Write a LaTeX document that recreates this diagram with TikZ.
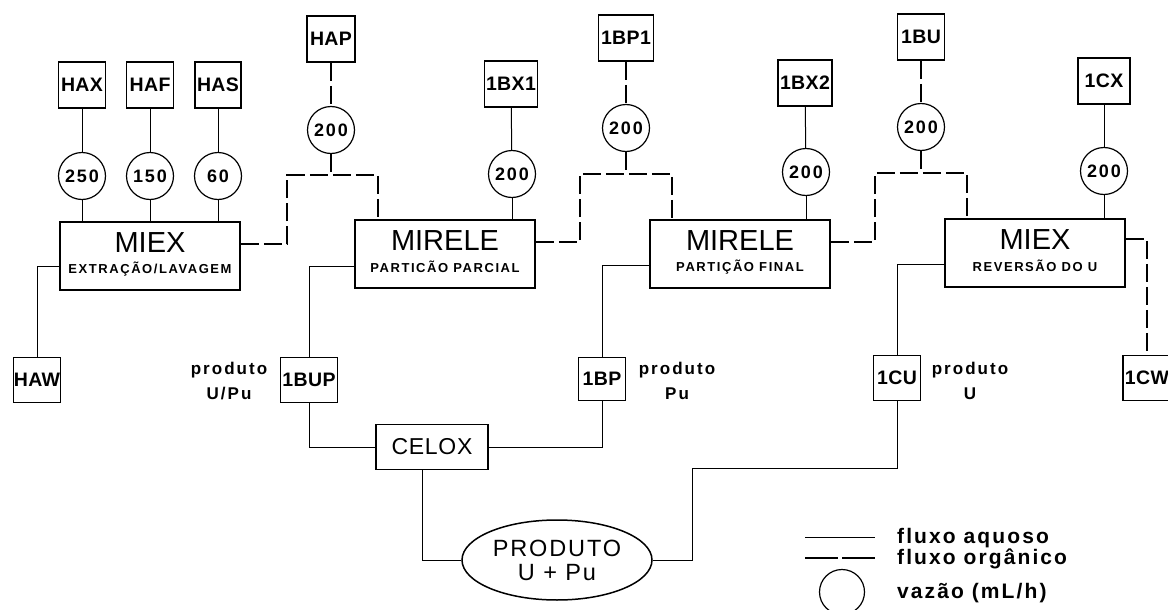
\documentclass[tikz,border=0pt]{standalone}
\usepackage{fontspec}
\setmainfont{Liberation Sans}
\newfontfamily\lblf{Liberation Sans}[LetterSpace=2]
\newfontfamily\numf{Liberation Sans}[LetterSpace=10]
\newfontfamily\subf{Liberation Sans}[LetterSpace=12]
\newfontfamily\prodf{Liberation Sans}[LetterSpace=12]
\newfontfamily\legf{Liberation Sans}[LetterSpace=10]
\newfontfamily\elf{Liberation Sans}[LetterSpace=8]
\newfontfamily\celf{Liberation Sans}[LetterSpace=3]
\usetikzlibrary{shapes.geometric}
\tikzset{
 sbox/.style={draw, line width=1.8pt, inner sep=0pt, minimum height=46pt, font=\lblf\bfseries\fontsize{19.5}{20}\selectfont},
 bigbox/.style={draw, line width=1.8pt, minimum width=180pt, minimum height=68pt, inner sep=0pt},
 flow/.style={draw, circle, line width=1.2pt, minimum size=47pt, inner sep=0pt, font=\numf\bfseries\fontsize{18}{18}\selectfont},
 aq/.style={line width=1pt},
 org/.style={line width=1.4pt, dash pattern=on 18pt off 5pt},
 ttl/.style={inner sep=0pt, font=\fontsize{29}{29}\selectfont},
 sub/.style={inner sep=0pt, font=\subf\bfseries\fontsize{13}{13}\selectfont},
 lbl/.style={align=center, inner sep=0pt, font=\prodf\bfseries\fontsize{17}{25}\selectfont},
 leg/.style={anchor=base west, inner sep=0pt, font=\legf\bfseries\fontsize{21}{21}\selectfont},
}
\begin{document}
\begin{tikzpicture}[x=1pt,y=-1pt]
\useasboundingbox (0,0) rectangle (1168,610);
\clip (0,0) rectangle (1168,610);
% small boxes
\node[sbox,minimum width=47pt] (hax) at (82,85) {HAX};
\node[sbox,minimum width=47pt] (haf) at (150,85) {HAF};
\node[sbox,minimum width=46pt] (has) at (218,85) {HAS};
\node[sbox,minimum width=48pt] (hap) at (331,39) {HAP};
\node[sbox,minimum width=53pt] (bx1) at (511,84) {1BX1};
\node[sbox,minimum width=55pt] (bp1) at (626,38) {1BP1};
\node[sbox,minimum width=54pt] (bx2) at (805,83) {1BX2};
\node[sbox,minimum width=47pt] (bu) at (921,37) {1BU};
\node[sbox,minimum width=52pt] (cx) at (1104,81) {1CX};
\node[sbox,minimum width=47pt,minimum height=45pt] (haw) at (37,380) {HAW};
\node[sbox,minimum width=57pt,minimum height=45pt] (bup) at (309,380) {1BUP};
\node[sbox,minimum width=47pt,minimum height=43pt] (bp) at (602,379) {1BP};
\node[sbox,minimum width=47pt,minimum height=45pt] (cu) at (897,378) {1CU};
\node[sbox,minimum width=48pt,minimum height=45pt] (cw) at (1147,378) {1CW};
% flow circles
\node[flow] (c1) at (82,176) {250};
\node[flow] (c2) at (150,176) {150};
\node[flow] (c3) at (218,176) {60};
\node[flow] (c4) at (331,130) {200};
\node[flow] (c5) at (512,174) {200};
\node[flow] (c6) at (626,128) {200};
\node[flow] (c7) at (806,172) {200};
\node[flow] (c8) at (921,127) {200};
\node[flow] (c9) at (1104,171) {200};
% big boxes
\node[bigbox] (mx1) at (150,256) {};
\node[ttl] (mx1t) at ([yshift=13pt]mx1.center) {MIEX};
\node[sub] (mx1s) at ([yshift=-13pt]mx1.center) {EXTRAÇÃO/LAVAGEM};
\node[bigbox] (mr1) at (445,254) {};
\node[ttl] (mr1t) at ([yshift=13pt]mr1.center) {MIRELE};
\node[sub] (mr1s) at ([yshift=-13pt]mr1.center) {PARTICÃO PARCIAL};
\node[bigbox] (mr2) at (740,254) {};
\node[ttl] (mr2t) at ([yshift=13pt]mr2.center) {MIRELE};
\node[sub] (mr2s) at ([yshift=-13pt]mr2.center) {PARTIÇÃO FINAL};
\node[bigbox] (mx2) at (1035,253) {};
\node[ttl] (mx2t) at ([yshift=13pt]mx2.center) {MIEX};
\node[sub] (mx2s) at ([yshift=-13pt]mx2.center) {REVERSÃO DO U};
% celox and product
\node[draw, line width=1.8pt, minimum width=112pt, minimum height=45pt, inner sep=0pt, font=\celf\fontsize{23}{23}\selectfont] (celox) at (432,447) {CELOX};
\node[ellipse, draw, line width=1.5pt, minimum width=190pt, minimum height=80pt, inner sep=0pt, align=center, font=\elf\fontsize{23.5}{24}\selectfont] (prod) at (557,560) {PRODUTO\\U + Pu};
% product labels
\node[lbl] (l1) at (229,381) {produto\\U/Pu};
\node[lbl] (l2) at (677,381) {produto\\Pu};
\node[lbl] (l3) at (970,381) {produto\\U};
% feeds
\draw[aq] (hax) -- (c1); \draw[aq] (c1) -- (c1 |- mx1.north);
\draw[aq] (haf) -- (c2); \draw[aq] (c2) -- (c2 |- mx1.north);
\draw[aq] (has) -- (c3); \draw[aq] (c3) -- (c3 |- mx1.north);
\draw[aq] (bx1) -- (c5); \draw[aq] (c5) -- (c5 |- mr1.north);
\draw[aq] (bx2) -- (c7); \draw[aq] (c7) -- (c7 |- mr2.north);
\draw[aq] (cx) -- (c9); \draw[aq] (c9) -- (c9 |- mx2.north);
% organic
\coordinate (j1a) at (287,175); \coordinate (j1b) at (378,175);
\coordinate (j2a) at (580,174); \coordinate (j2b) at (672,174);
\coordinate (j3a) at (875,173); \coordinate (j3b) at (967,173);
\draw[org] (hap) -- (c4); \draw[org] (c4) -- (c4 |- j1a);
\draw[org] ([yshift=12pt]mx1.east) -| (j1a) -- (j1b) -- (j1b |- mr1.north);
\draw[org] (bp1) -- (c6); \draw[org] (c6) -- (c6 |- j2a);
\draw[org] ([yshift=12pt]mr1.east) -| (j2a) -- (j2b) -- (j2b |- mr2.north);
\draw[org] (bu) -- (c8); \draw[org] (c8) -- (c8 |- j3a);
\draw[org] ([yshift=12pt]mr2.east) -| (j3a) -- (j3b) -- (j3b |- mx2.north);
\draw[org] ([yshift=14pt]mx2.east) -| (cw);
% aqueous outputs
\draw[aq] ([yshift=-10pt]mx1.west) -| (haw);
\draw[aq] ([yshift=-12pt]mr1.west) -| (bup);
\draw[aq] ([yshift=-11pt]mr2.west) -| (bp);
\draw[aq] ([yshift=-11pt]mx2.west) -| (cu);
\draw[aq] (bup) |- (celox);
\draw[aq] (bp) |- (celox);
\draw[aq] ([xshift=-10pt]celox.south) |- (prod);
\coordinate (k1) at (692,468);
\draw[aq] (prod) -| (k1) -| (cu);
% legend
\coordinate (la1) at (805,537); \coordinate (la2) at (875,537);
\coordinate (lb1) at (805,558); \coordinate (lb2) at (875,558);
\draw[aq] (la1) -- (la2);
\draw[org, dash pattern=on 33pt off 4pt] (lb1) -- (lb2);
\node[draw, circle, line width=1.2pt, minimum size=45pt, inner sep=0pt] (lc) at (842,592) {};
\node[leg] (lt1) at (897,543) {fluxo aquoso};
\node[leg] (lt2) at (897,564) {fluxo orgânico};
\node[leg] (lt3) at (897,598) {vazão (mL/h)};
\end{tikzpicture}
\end{document}
